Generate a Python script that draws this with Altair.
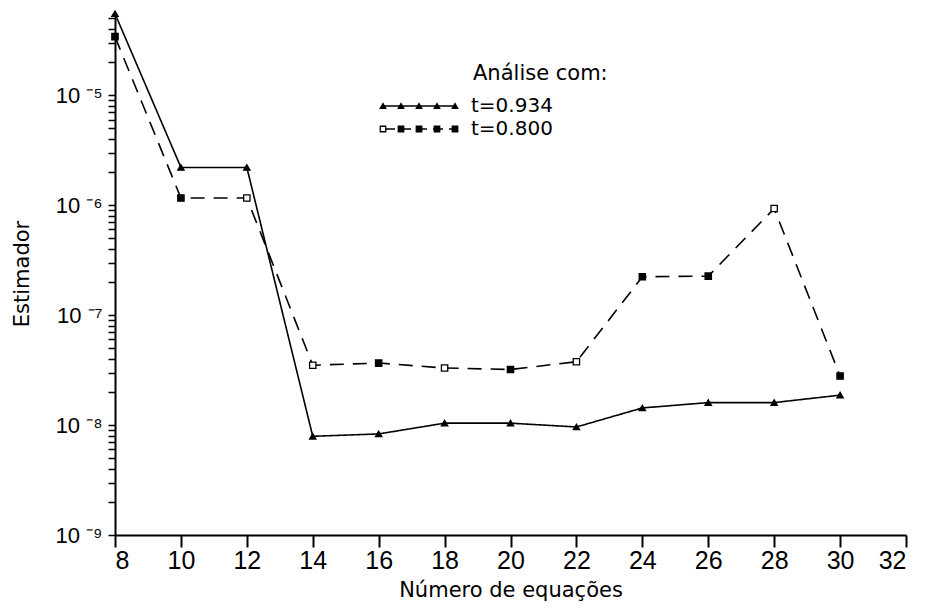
import altair as alt
import pandas as pd

# ---- data ----
n_equations = [8, 10, 12, 14, 16, 18, 20, 22, 24, 26, 28, 30]
est_t0934 = [5.5e-5, 2.2e-6, 2.2e-6, 7.9e-9, 8.3e-9, 1.04e-8, 1.04e-8, 9.6e-9,
             1.43e-8, 1.6e-8, 1.6e-8, 1.87e-8]
est_t0800 = [3.4e-5, 1.16e-6, 1.16e-6, 3.5e-8, 3.66e-8, 3.3e-8, 3.2e-8, 3.76e-8,
             2.23e-7, 2.26e-7, 9.3e-7, 2.79e-8]
hollow_t0800 = [False, False, True, True, False, True, False, True,
                False, False, True, False]
series_labels = ["t=0.934", "t=0.800"]
legend_title = "Análise com:"
x_ticks = list(range(8, 33, 2))
y_decades = [-9, -8, -7, -6, -5]
y_decade_labels = ["10 ⁻⁹", "10 ⁻⁸", "10 ⁻⁷", "10 ⁻⁶", "10 ⁻⁵"]

FONT = "DejaVu Sans"
TICKFONT = "Liberation Sans"

rows = []
for i, n in enumerate(n_equations):
    rows.append({"n": n, "v": est_t0934[i], "series": series_labels[0], "fillk": "filled"})
    rows.append({"n": n, "v": est_t0800[i], "series": series_labels[1],
                 "fillk": "hollow" if hollow_t0800[i] else "filled"})
df = pd.DataFrame(rows)

# y ticks: every 1..9 multiple inside the domain
y_max = 5.7e-5
y_tick_vals = []
for e in y_decades:
    for m in range(1, 10):
        v = m * 10.0 ** e
        if v <= y_max * 1.0001:
            y_tick_vals.append(v)

lab_expr = "''"
for e, lab in zip(y_decades, y_decade_labels):
    lab_expr = f"abs(log(datum.value)/LN10 - ({e})) < 0.001 ? '{lab}' : ({lab_expr})"

x_scale = alt.Scale(domain=[8, 32], nice=False, zero=False)
y_scale = alt.Scale(type="log", domain=[1e-9, y_max], nice=False)

x_enc = alt.X("n:Q", scale=x_scale,
              axis=alt.Axis(values=x_ticks, title="Número de equações", grid=False,
                            tickSize=12, labelFontSize=25, labelPadding=1,
                            titleFontSize=21, titlePadding=6, titleFontWeight="normal",
                            labelFont=TICKFONT, titleFont=FONT, domainWidth=2,
                            domainColor="black", tickColor="black", tickWidth=2,
                            labelColor="black", titleColor="black"))
y_enc = alt.Y("v:Q", scale=y_scale,
              axis=alt.Axis(values=y_tick_vals, labelExpr=lab_expr, title="Estimador",
                            grid=False, tickSize=7, labelFontSize=22, labelPadding=6,
                            titleFontSize=21, titlePadding=22, titleFontWeight="normal",
                            labelFont=TICKFONT, titleFont=FONT, domainWidth=2,
                            domainColor="black", tickColor="black", tickWidth=1.5,
                            labelColor="black", titleColor="black", labelOverlap=False))

base = alt.Chart(df)

lines = base.mark_line(color="black", strokeWidth=1.6).encode(
    x=x_enc, y=y_enc,
    strokeDash=alt.StrokeDash("series:N",
                              scale=alt.Scale(domain=series_labels, range=[[1, 0], [14, 9]]),
                              legend=None),
    detail="series:N",
)

points = base.mark_point(strokeWidth=1.3, stroke="black", opacity=1).encode(
    x=alt.X("n:Q", scale=x_scale),
    y=alt.Y("v:Q", scale=y_scale),
    shape=alt.Shape("series:N", scale=alt.Scale(domain=series_labels,
                                                 range=["triangle-up", "square"]), legend=None),
    fill=alt.Fill("fillk:N", scale=alt.Scale(domain=["filled", "hollow"],
                                             range=["black", "white"]), legend=None),
    size=alt.value(40),
)

# ---- hand-drawn legend (plot-area pixel positions) ----
leg_title = alt.Chart(pd.DataFrame({"t": [legend_title]})).mark_text(
    align="left", baseline="middle", font=FONT, fontSize=21, color="black"
).encode(x=alt.value(358), y=alt.value(62), text="t:N")

leg_lab_df = pd.DataFrame({"label": series_labels, "row": [0, 1]})
leg_labels = alt.Chart(leg_lab_df).mark_text(
    align="left", baseline="middle", font=FONT, fontSize=20, color="black"
).transform_calculate(py="94 + datum.row*23").encode(
    x=alt.value(356), y=alt.Y("py:Q", scale=None, axis=None), text="label:N")

leg_line1 = alt.Chart(pd.DataFrame({"a": [0]})).mark_rule(color="black", strokeWidth=1.6).encode(
    x=alt.value(268), x2=alt.value(340), y=alt.value(94))
leg_line2 = alt.Chart(pd.DataFrame({"a": [0]})).mark_rule(
    color="black", strokeWidth=1.6, strokeDash=[10, 6]).encode(
    x=alt.value(270), x2=alt.value(340), y=alt.value(117))

leg_mk_rows = []
for r, s in enumerate(series_labels):
    for k in range(5):
        leg_mk_rows.append({"series": s, "row": r, "k": k,
                            "fillk": "hollow" if (r == 1 and k == 0) else "filled"})
leg_markers = alt.Chart(pd.DataFrame(leg_mk_rows)).mark_point(
    strokeWidth=1.3, stroke="black", opacity=1
).transform_calculate(
    px="268 + datum.k*18", py="94 + datum.row*23"
).encode(
    x=alt.X("px:Q", scale=None, axis=None),
    y=alt.Y("py:Q", scale=None, axis=None),
    shape=alt.Shape("series:N", scale=alt.Scale(domain=series_labels,
                                                 range=["triangle-up", "square"]), legend=None),
    fill=alt.Fill("fillk:N", scale=alt.Scale(domain=["filled", "hollow"],
                                             range=["black", "white"]), legend=None),
    size=alt.value(30),
)

chart = alt.layer(lines, points, leg_title, leg_labels, leg_line1, leg_line2, leg_markers).properties(
    width=791, height=523,
    background="white",
    autosize=alt.AutoSizeParams(type="none"),
    padding={"left": 107, "top": 4, "right": 20, "bottom": 67},
).configure_view(strokeWidth=0, stroke=None)

chart.save("out.html", embed_options={"renderer": "svg", "actions": False})
